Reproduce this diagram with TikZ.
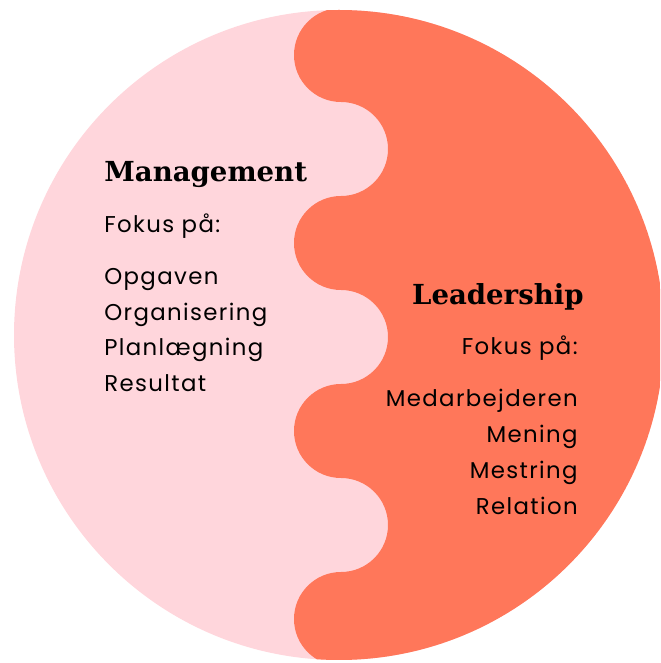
\documentclass[tikz,border=0pt]{standalone}
\usepackage{fontspec}
\setmainfont{Poppins}[LetterSpace=6]
\newfontfamily\headfont{DejaVu Serif}
\usetikzlibrary{positioning}
\definecolor{mgtpink}{HTML}{FFD6DC}
\definecolor{ldrsalmon}{HTML}{FF775A}
\tikzset{
  head/.style={font=\headfont\bfseries\fontsize{15.7}{18}\selectfont, inner sep=0pt, text=black},
  txt/.style={font=\fontsize{13}{16}\selectfont, inner sep=0pt, text=black},
  wave/.style={fill=ldrsalmon}
}
\newcommand{\bump}{47}

\begin{document}
\begin{tikzpicture}[x=0.02cm, y=0.02cm]
		\useasboundingbox (0,0) rectangle (660,663);
		\clip (0,0) rectangle (660,663);
		\begin{scope}
			\clip (339,328) circle[radius=325];
			\fill[mgtpink] (339,328) circle[radius=325];
			\fill[wave] (341,700) -- (341,655)
				\foreach \k in {0,1,2}{
					arc[start angle=90, end angle=270, radius=\bump]
					arc[start angle=90, end angle=-90, radius=\bump]
				}
				arc[start angle=90, end angle=270, radius=\bump]
				-- (700,-10) -- (700,700) -- cycle;
		\end{scope}
		\node[head, anchor=base west] (mgt) at (104,481) {Management};
		\node[txt, anchor=base west] (mgtfok) at (104,430) {Fokus på:};
		\foreach \t [count=\i] in {Opgaven, Organisering, Planlægning, Resultat}
			\node[txt, anchor=base west] (mgt\i) at (104,{413.5-35.5*\i}) {\t};
		\node[head, anchor=base east] (ldr) at (584,358) {Leadership};
		\node[txt, anchor=base east] (ldrfok) at (578,308) {Fokus på:};
		\foreach \t [count=\i] in {Medarbejderen, Mening, Mestring, Relation}
			\node[txt, anchor=base east] (ldr\i) at (578,{292-36*\i}) {\t};
	\end{tikzpicture}
\end{document}
